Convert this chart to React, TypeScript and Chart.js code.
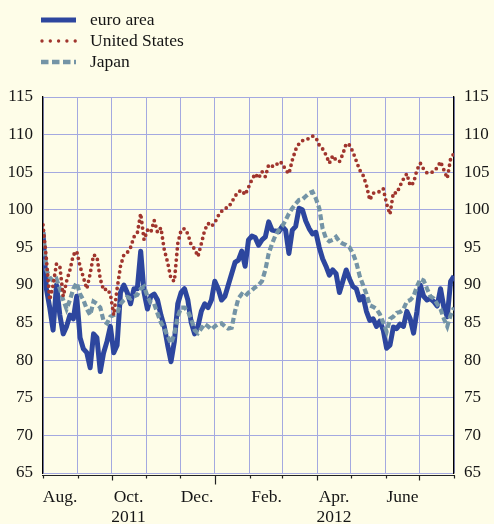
import React, { useEffect, useRef } from 'react';
import { Chart, registerables } from 'chart.js';

Chart.register(...registerables);

// Days since 1 Aug 2011 (every third day)
const days = [
  0, 3, 6, 9, 12, 15, 18, 21, 24, 27, 30, 33, 36, 39, 42, 45, 48, 51, 54, 57,
  60, 63, 66, 69, 72, 75, 78, 81, 84, 87, 90, 93, 96, 99, 102, 105, 108, 111, 114, 117,
  120, 123, 126, 129, 132, 135, 138, 141, 144, 147, 150, 153, 156, 159, 162, 165, 168, 171, 174, 177,
  180, 183, 186, 189, 192, 195, 198, 201, 204, 207, 210, 213, 216, 219, 222, 225, 228, 231, 234, 237,
  240, 243, 246, 249, 252, 255, 258, 261, 264, 267, 270, 273, 276, 279, 282, 285, 288, 291, 294, 297,
  300, 303, 306, 309, 312, 315, 318, 321, 324, 327, 330, 333, 336, 339, 342, 345, 348, 351, 354, 357,
  360, 363, 366,
];

const euroArea = [
  97, 89.5, 87, 84, 90, 86, 83.5, 84.5, 86, 85.5,
  88.5, 83, 81.5, 81, 79, 83.5, 83, 78.5, 81, 82.5,
  84.5, 81, 82, 89, 90, 89, 87.5, 89.5, 89.5, 94.5,
  89, 86.8, 88.5, 88.8, 88, 86, 84.5, 82, 79.8, 82.5,
  87.5, 89, 89.5, 88, 85, 83.5, 84.5, 86.5, 87.5, 87,
  88, 90.5, 89.5, 88, 88.5, 90, 91.5, 93, 93.3, 94.5,
  92.5, 96, 96.5, 96.3, 95.3, 96, 96.4, 98.4, 97.3, 97.2,
  97.1, 97.8, 97.3, 94.2, 97.3, 97.8, 100.2, 100, 98.5, 97.5,
  96.8, 97, 95, 93.5, 92.5, 91.3, 92, 91.5, 89, 90.5,
  92, 90.8, 89.8, 89.5, 88, 88.5, 86.5, 85.3, 85.5, 84.5,
  85.2, 84, 81.6, 82, 84.4, 84.2, 84.8, 84.5, 86.5, 85.5,
  83.6, 86.5, 90, 88.5, 88, 88.2, 87.8, 87.2, 89.5, 87,
  85.8, 90.5, 91.2,
];

const unitedStates = [
  98, 93.5, 88, 90, 92.8, 92.5, 88.5, 90.5, 92, 94,
  94.5, 92.5, 91, 89.5, 91.5, 94, 93.8, 90.8, 89.3, 89.5,
  88.8, 86, 89.5, 92.5, 94, 94.3, 95, 96.4, 96.9, 99.5,
  96, 97.3, 97, 98.6, 97, 97.6, 94.7, 93, 90.8, 90.5,
  95.5, 97.3, 97.5, 96.8, 95.3, 94.8, 93.8, 95.5, 97.3, 98.2,
  97.8, 98.3, 99.2, 99.8, 100.2, 100.3, 101, 101.8, 102.4, 102.6,
  102, 103, 104, 104.8, 104.2, 105.1, 104.4, 106, 105.8, 105.8,
  106.4, 106.2, 105.3, 104.8, 106.6, 108, 108.8, 109.2, 109.3, 109.5,
  109.8, 109.6, 108.6, 108.1, 107.3, 106.2, 107.2, 106.6, 106.4, 107.4,
  108.8, 108.6, 107.7, 106.5, 105.3, 104.6, 103.3, 101.3, 102.2, 102.4,
  102.4, 102.8, 100.8, 99.4, 102.3, 102.2, 103.2, 104.1, 104.8, 103.2,
  103.6, 105.3, 106.2, 105.4, 104.9, 104.9, 105.1, 105.6, 106.4, 105.3,
  104.2, 106.8, 107.5,
];

const japan = [
  97, 92, 91, 90.5, 90.8, 89.5, 88, 86.8, 88, 89.5,
  90.3, 88.8, 88, 86.8, 86, 87.8, 87.5, 87, 85.2, 84.9,
  85.8, 86, 86.2, 87.5, 88, 88.4, 88.2, 88.5, 88.7, 89.5,
  89.8, 88.5, 87.6, 87.5, 86.2, 85, 84.2, 83.2, 82.2, 83.5,
  85.8, 87, 87, 86.5, 85.5, 84, 83.6, 84.2, 84.8, 84.5,
  84.1, 84.5, 84.8, 84.9, 84.5, 84.2, 84.3, 86.5, 88.2, 88.8,
  88.5, 89, 89.3, 89.7, 90, 90.5, 92, 94.2, 95.5, 96.6,
  97.3, 97.8, 98.6, 99.5, 100.2, 100.8, 101.3, 101.4, 101.8, 102.2,
  102.4, 101.5, 100.2, 97.5, 96.2, 95.8, 96, 96.4, 95.8, 95.5,
  95.3, 95, 94.2, 93, 91.2, 90, 88.8, 87.3, 87.1, 86.8,
  86.1, 85, 83.8, 85.5, 85.8, 86.3, 86.4, 86.8, 87.8, 88,
  88.5, 89.8, 90.8, 90.6, 89.5, 88.5, 88.2, 87.5, 86.8, 85.5,
  84.5, 86, 87,
];

// Month boundaries (days since 1 Aug 2011) and their labels
const monthStarts = [0, 31, 61, 92, 122, 153, 184, 213, 244, 274, 305, 335, 366];
const monthLabels = ['Aug.', '', 'Oct.', '', 'Dec.', '', 'Feb.', '', 'Apr.', '', 'June', '', ''];
const yearLabels = ['', '', '2011', '', '', '', '', '', '2012', '', '', '', ''];
const yTicks = [65, 70, 75, 80, 85, 90, 95, 100, 105, 110, 115];

const seriesNames = ['euro area', 'United States', 'Japan'];

const BG = '#FEFDE8';
const GRID = '#A4A9E0';
const TEXT = '#151515';
const FONT = "'Liberation Serif', 'Times New Roman', serif";

const toPoints = (vals: number[]) => vals.map((v, i) => ({ x: days[i], y: v }));

const legendPlugin = {
  id: 'customLegend',
  afterDraw(chart: any) {
    const ctx = chart.ctx;
    const rows = [20, 41, 62];
    chart.data.datasets.forEach((ds: any, i: number) => {
      const y = rows[i];
      ctx.save();
      ctx.beginPath();
      ctx.strokeStyle = ds.borderColor;
      ctx.lineWidth = ds.legendWidth;
      ctx.lineCap = ds.borderCapStyle || 'butt';
      ctx.setLineDash(ds.legendDash || []);
      ctx.moveTo(ds.legendStart, y);
      ctx.lineTo(76, y);
      ctx.stroke();
      ctx.setLineDash([]);
      ctx.fillStyle = TEXT;
      ctx.font = `17.5px ${FONT}`;
      ctx.textAlign = 'left';
      ctx.textBaseline = 'middle';
      ctx.fillText(ds.label, 90, y);
      ctx.restore();
    });
  },
};

// Date axis line slightly below the plot, with month / quarter / year tick marks
const dateAxisPlugin = {
  id: 'dateAxis',
  afterDraw(chart: any) {
    const ctx = chart.ctx;
    const xs = chart.scales.x;
    const { left, right, bottom } = chart.chartArea;
    const yLine = bottom + 2.5;
    ctx.save();
    ctx.strokeStyle = '#222';
    ctx.lineWidth = 1.2;
    ctx.beginPath();
    ctx.moveTo(left - 1, yLine);
    ctx.lineTo(right + 1, yLine);
    ctx.stroke();
    monthStarts.forEach((d, i) => {
      const px = Math.round(xs.getPixelForValue(d)) + 0.5;
      const len = i === 5 ? 9 : i % 3 === 2 ? 5 : 3;
      ctx.beginPath();
      ctx.moveTo(px, yLine);
      ctx.lineTo(px, yLine + len);
      ctx.stroke();
    });
    ctx.restore();
  },
};

export default function App() {
  const ref = useRef<HTMLCanvasElement | null>(null);

  useEffect(() => {
    if (!ref.current) return;
    const chart = new Chart(ref.current, {
      type: 'line',
      data: {
        datasets: [
          {
            label: seriesNames[0],
            data: toPoints(euroArea),
            borderColor: '#2D469E',
            borderWidth: 5,
            pointRadius: 0,
            borderJoinStyle: 'round',
            order: 3,
            legendWidth: 5,
            legendStart: 41,
          } as any,
          {
            label: seriesNames[1],
            data: toPoints(unitedStates),
            borderColor: '#A0352D',
            borderWidth: 3.8,
            borderDash: [0, 5.6],
            borderCapStyle: 'round',
            pointRadius: 0,
            order: 1,
            legendWidth: 3.4,
            legendDash: [0, 8.3],
            legendStart: 42,
          } as any,
          {
            label: seriesNames[2],
            data: toPoints(japan),
            borderColor: '#7494A6',
            borderWidth: 4.2,
            borderDash: [6, 3],
            pointRadius: 0,
            order: 2,
            legendWidth: 4.3,
            legendDash: [7.5, 3.5],
            legendStart: 41,
          } as any,
        ],
      },
      options: {
        responsive: false,
        animation: false,
        layout: { padding: { top: 97, left: 0, right: 0, bottom: 0 } },
        plugins: { legend: { display: false }, tooltip: { enabled: false } },
        scales: {
          x: {
            type: 'linear',
            position: 'bottom',
            min: 0,
            max: 366,
            afterBuildTicks: (scale: any) => {
              scale.ticks = monthStarts.map((v) => ({ value: v }));
            },
            afterFit: (scale: any) => {
              scale.height = 51;
            },
            grid: {
              color: GRID,
              lineWidth: 1,
              drawTicks: false,
            },
            border: { display: false },
            ticks: {
              autoSkip: false,
              maxRotation: 0,
              minRotation: 0,
              labelOffset: 17,
              padding: 14,
              color: TEXT,
              font: { family: FONT, size: 17.5, lineHeight: 1.17 },
              callback: (value: any) => {
                const i = monthStarts.indexOf(Number(value));
                if (i < 0 || !monthLabels[i]) return '';
                return yearLabels[i] ? [monthLabels[i], yearLabels[i]] : monthLabels[i];
              },
            },
          },
          y: {
            position: 'left',
            min: 65,
            max: 115,
            afterBuildTicks: (scale: any) => {
              scale.ticks = yTicks.map((v) => ({ value: v }));
            },
            afterFit: (scale: any) => {
              scale.width = 43;
            },
            grid: { color: GRID, lineWidth: 1, drawTicks: false },
            border: { color: '#000', width: 1.3 },
            ticks: {
              padding: 10,
              color: TEXT,
              font: { family: FONT, size: 17 },
            },
          },
          y2: {
            position: 'right',
            min: 65,
            max: 115,
            afterBuildTicks: (scale: any) => {
              scale.ticks = yTicks.map((v) => ({ value: v }));
            },
            afterFit: (scale: any) => {
              scale.width = 40;
            },
            grid: { display: false, drawTicks: false },
            border: { color: '#000', width: 1.3 },
            ticks: {
              padding: 10,
              color: TEXT,
              font: { family: FONT, size: 17 },
            },
          },
        },
      } as any,
      plugins: [legendPlugin, dateAxisPlugin],
    });
    return () => chart.destroy();
  }, []);

  return (
    <div
      style={{
        position: 'fixed',
        left: 0,
        top: 0,
        width: 494,
        height: 524,
        background: BG,
        overflow: 'hidden',
      }}
    >
      <canvas ref={ref} width={494} height={524} style={{ display: 'block' }} />
    </div>
  );
}
